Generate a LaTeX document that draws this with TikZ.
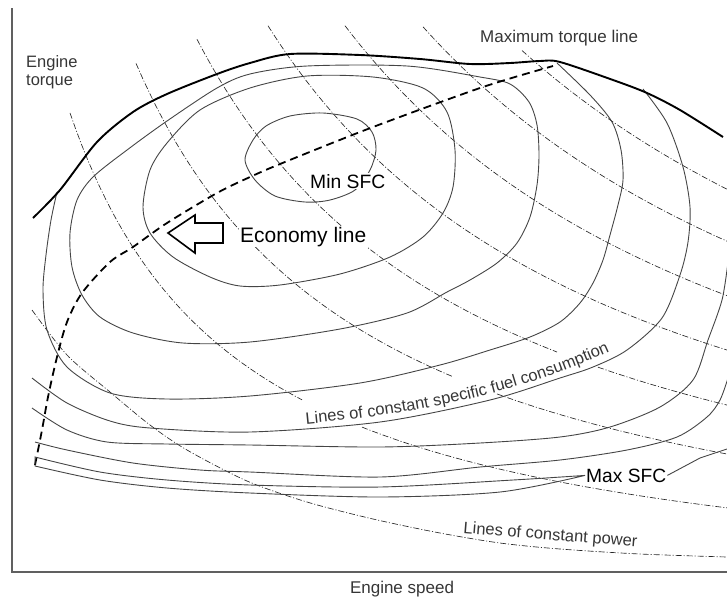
\documentclass[tikz,border=0pt]{standalone}
\usepackage{fontspec}
\setmainfont{Liberation Sans}
\usetikzlibrary{decorations.text}
\definecolor{labelgray}{HTML}{363636}
\definecolor{linegray}{HTML}{454545}

\begin{document}
\begin{tikzpicture}[x=1pt, y=-1pt,
    sfcline/.style={linegray, line width=0.9pt},
    powerline/.style={black!85, line width=0.65pt, dash pattern=on 6pt off 2pt on 1pt off 2pt},
    axislabel/.style={labelgray, inner sep=0pt, font=\fontsize{17}{20}\selectfont},
    marker/.style={fill=white, inner sep=1pt}]
    \useasboundingbox (0,0) rectangle (727,598);

    % axes
    \draw[gray!75!black, line width=1.3pt] (12,8) -- (12,572) -- (727,572);

    % lines of constant power
    \draw[powerline] plot[smooth] coordinates {(32,310) (67,355) (110,392) (150,425) (187,450) (247,481) (307,502) (373,519) (440,533) (500,543) (560,549) (640,554) (727,557)};
    \draw[powerline, domain=70:302, samples=40] plot (\x,{610-845/((\x+100)/100)});
    \draw[powerline, domain=362:727, samples=40] plot (\x,{610-845/((\x+100)/100)});
    \draw[powerline, domain=136:453, samples=50] plot (\x,{610-1290/((\x+100)/100)});
    \draw[powerline, domain=497:727, samples=30] plot (\x,{610-1290/((\x+100)/100)});
    \draw[powerline, domain=197:557, samples=50] plot (\x,{610-1695/((\x+100)/100)});
    \draw[powerline, domain=598:727, samples=20] plot (\x,{610-1695/((\x+100)/100)});
    \draw[powerline, domain=268:727, samples=50] plot (\x,{610-2150/((\x+100)/100)});
    \draw[powerline, domain=345:727, samples=50] plot (\x,{610-2600/((\x+100)/100)});
    \draw[powerline, domain=423:727, samples=40] plot (\x,{610-3050/((\x+100)/100)});
    \draw[powerline, domain=522:727, samples=30] plot (\x,{610-3480/((\x+100)/100)});

    % lines of constant specific fuel consumption
    \draw[sfcline] plot[smooth cycle] coordinates {(245,160) (253,140) (266,126) (290,116) (323,113) (357,119) (372,132) (376,150) (370,170) (355,190) (330,200) (305,202) (275,196) (255,180)};
    \draw[sfcline] plot[smooth cycle] coordinates {(143,207) (150,170) (167,143) (200,110) (250,88) (307,76) (373,77) (423,88) (447,112) (455,150) (453,187) (443,213) (423,237) (390,257) (340,274) (280,285) (240,286) (210,277) (173,257) (150,233)};
    \draw[sfcline] plot[smooth cycle] coordinates {(70,233) (77,200) (93,177) (127,150) (167,121) (217,88) (250,74) (307,66) (407,66) (480,77) (510,84) (529,102) (537,125) (539,155) (537,185) (530,217) (517,243) (497,263) (470,280) (447,292) (407,313) (340,329) (250,342) (183,343) (133,333) (100,317) (82,295) (72,267)};
    \draw[sfcline] plot[smooth] coordinates {(57,192) (51,220) (46,255) (43,290) (47,330) (67,367) (110,393) (167,399) (250,396) (360,383) (440,365) (490,350) (530,337) (560,322) (580,303) (593,283) (603,260) (610,235) (618,205) (623,180) (621,150) (612,122) (590,95) (557,63)};
    \draw[sfcline] plot[smooth] coordinates {(643,89) (667,123) (683,167) (690,207) (688,242) (680,275) (662,318) (627,350) (593,367) (560,378) (490,400) (380,422) (250,432) (150,428) (110,421) (67,403) (32,378)};
    \draw[sfcline] plot[smooth] coordinates {(728,262) (722,300) (708,340) (693,380) (660,407) (610,427) (560,437) (480,443) (380,447) (250,445) (167,444) (107,442) (67,430) (32,408)};
    \draw[sfcline] plot[smooth] coordinates {(728,378) (720,400) (707,417) (677,437) (627,450) (560,460) (480,467) (380,477) (250,472) (200,470) (133,463) (67,450) (35,442)};

    % maximum torque line
    \draw[line width=1.9pt] plot[smooth] coordinates {(33,218) (60,190) (97,142) (133,112) (167,94) (217,74) (250,63) (290,54) (360,55) (420,59) (470,64) (510,63) (540,61) (560,62) (613,80) (647,93) (680,110) (723,137)};

    % economy line
    \draw[line width=1.8pt, dash pattern=on 8pt off 5pt] plot[smooth] coordinates {(35,465) (42,430) (48,397) (57,357) (67,322) (82,293) (110,262) (133,247) (167,223) (217,193) (250,177) (280,164) (360,132) (427,107) (480,88) (515,77) (553,66)};
    \draw[line width=1.6pt, fill=white] (168,233) -- (195,215) -- (195,223) -- (223,223) -- (223,243) -- (195,243) -- (195,253) -- cycle;

    % labels
    \node[axislabel, anchor=north west, align=left, font=\fontsize{16.5}{18}\selectfont] (torque) at (26,55) {Engine\\torque};
    \node[axislabel, anchor=base west] (maxtorque) at (480,42) {Maximum torque line};
    \node[axislabel, anchor=base] (speed) at (402,593) {Engine speed};
    \node[marker, anchor=base west, font=\fontsize{21}{24}\selectfont] (economy) at (239,242) {Economy line};
    \node[marker, anchor=base west, font=\fontsize{19.3}{22}\selectfont] (minsfc) at (309,188) {Min SFC};
    \node[marker, anchor=base west, font=\fontsize{19.2}{22}\selectfont] (maxsfc) at (585,482) {Max SFC};
    \node[axislabel, anchor=base west, rotate=-4.5, font=\fontsize{16.5}{18}\selectfont] (powerlabel) at (463,533) {Lines of constant power};
    \path[decorate, decoration={text along path, text color=labelgray,
        text={|\fontsize{16.5}{18}\selectfont|Lines of constant specific fuel consumption}}]
        (306,424) .. controls (430,412) and (525,393) .. (634,340);

    % max SFC contour
    \draw[sfcline] plot[smooth] coordinates {(maxsfc.west) (513,480) (380,487) (250,485) (167,480) (100,472) (35,457)} -- plot[smooth] coordinates {(35,466) (100,480) (167,488) (250,493) (380,497) (500,492) (maxsfc.west)};
    \draw[sfcline] (maxsfc.east) -- (700,458) -- (727,449);
\end{tikzpicture}
\end{document}
